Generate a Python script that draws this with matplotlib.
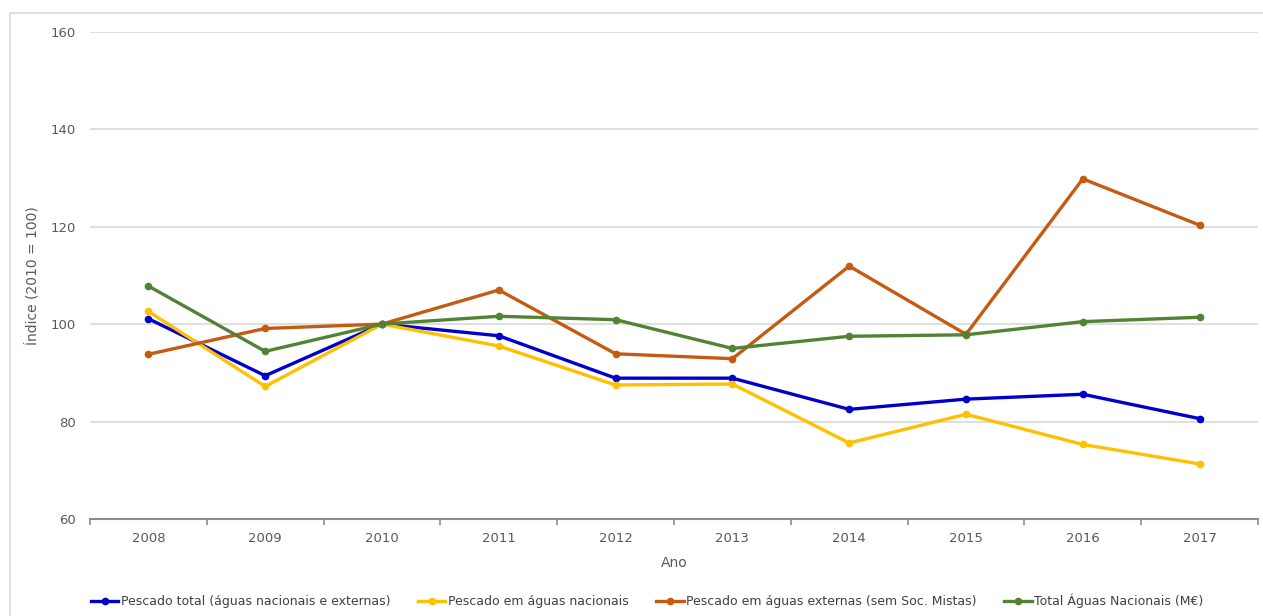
import matplotlib.pyplot as plt
import numpy as np
from matplotlib.patches import Rectangle

anos = [2008, 2009, 2010, 2011, 2012, 2013, 2014, 2015, 2016, 2017]

pescado_total = [101.1, 89.4, 100.0, 97.6, 88.9, 88.9, 82.5, 84.6, 85.6, 80.6]
pescado_nacionais = [102.6, 87.2, 100.0, 95.5, 87.5, 87.7, 75.6, 81.5, 75.3, 71.3]
pescado_externas = [93.8, 99.1, 100.0, 107.0, 93.9, 92.9, 111.9, 97.9, 129.8, 120.3]
total_aguas_nacionais = [107.8, 94.4, 100.0, 101.6, 100.9, 95.0, 97.5, 97.8, 100.5, 101.4]

series = [
    ("Pescado total (águas nacionais e externas)", pescado_total, "#0000cc"),
    ("Pescado em águas nacionais", pescado_nacionais, "#ffc000"),
    ("Pescado em águas externas (sem Soc. Mistas)", pescado_externas, "#c55a11"),
    ("Total Águas Nacionais (M€)", total_aguas_nacionais, "#548235"),
]

texto = "#595959"
plt.rcParams['font.family'] = ['DejaVu Sans']

fig = plt.figure(figsize=(12.63, 6.16), dpi=100)

# moldura clara à volta do gráfico
fig.patches.append(Rectangle((10 / 1263, -0.05), 1.1, 1 - 13 / 616 + 0.05,
                             transform=fig.transFigure, fill=False,
                             edgecolor="#d9d9d9", linewidth=1.2))

ax = fig.add_axes([90 / 1263, 1 - 519 / 616, (1258 - 90) / 1263, (519 - 31.7) / 616])

x = np.arange(len(anos))
for nome, valores, cor in series:
    ax.plot(x, valores, color=cor, linewidth=2.4, marker="o", markersize=4.5,
            label=nome, zorder=3)

ax.set_xlim(-0.5, len(anos) - 0.5)
ax.set_ylim(60, 160)
ax.set_yticks(range(60, 161, 20))
ax.set_xticks(x)
ax.set_xticklabels([str(a) for a in anos])
ax.set_xticks(np.arange(-0.5, len(anos), 1), minor=True)
ax.tick_params(axis="x", which="major", length=0, pad=9, labelsize=9.5, labelcolor=texto)
ax.tick_params(axis="x", which="minor", length=4, color="#8c8c8c", width=1.2)
ax.tick_params(axis="y", length=0, pad=10, labelsize=9.5, labelcolor=texto)

ax.grid(axis="y", color="#d9d9d9", linewidth=1.2, zorder=0)
for lado in ["top", "right", "left"]:
    ax.spines[lado].set_visible(False)
ax.spines["bottom"].set_color("#8c8c8c")
ax.spines["bottom"].set_linewidth(1.5)
ax.set_axisbelow(True)

ax.set_xlabel("Ano", fontsize=10, color=texto, labelpad=8)
ax.set_ylabel("Índice (2010 = 100)", fontsize=10, color=texto)
ax.yaxis.set_label_coords(-0.043, 0.5)

ax.legend(loc="upper center", bbox_to_anchor=(0.477, -0.13), ncol=4, frameon=False,
          fontsize=9, labelcolor="#404040", handlelength=2.2, handletextpad=0.2,
          columnspacing=2.2)

fig.savefig("out.png", dpi=100)
